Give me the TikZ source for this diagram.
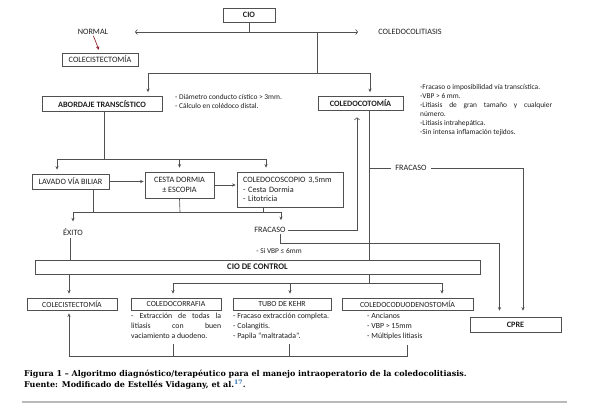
\documentclass[tikz,border=0pt]{standalone}
\usepackage{fontspec}
\setmainfont{Carlito}
\newfontfamily\capfont{DejaVu Serif}
\usetikzlibrary{arrows.meta,calc}
\definecolor{ln}{HTML}{505050}
\definecolor{tx}{HTML}{1E1E1E}
\definecolor{redar}{HTML}{8B1A2A}
\definecolor{supblue}{HTML}{2F6FB0}
\tikzset{
  lbl/.style={font=\fontsize{8.2}{10}\selectfont},
  bx/.style={draw=ln, line width=0.75pt, inner sep=0pt, font=\fontsize{8.2}{10}\selectfont},
  bxs/.style={bx, font=\fontsize{7.8}{10}\selectfont},
  bfx/.style={bx, font=\fontsize{8.2}{10}\selectfont\bfseries},
  nt/.style={font=\fontsize{7.4}{9}\selectfont, align=left, anchor=north west},
  ntb/.style={font=\fontsize{7.8}{10}\selectfont, align=left, anchor=north west},
  cn/.style={draw=ln, line width=0.65pt},
  arr/.style={cn, -{Stealth[length=3.5pt,width=3.2pt]}, shorten >=4pt},
  oarr/.style={cn, -{Straight Barb[length=2pt,width=5pt]}},
  rarr/.style={draw=redar, line width=0.65pt, -{Stealth[length=3.5pt,width=3.2pt]}, shorten >=3pt, shorten <=1pt},
  capt/.style={font=\capfont\bfseries\fontsize{8}{9}\selectfont, anchor=base west, text=black},
}
\begin{document}
\begin{tikzpicture}[x=1pt,y=-1pt, every node/.style={text=tx, inner sep=0pt}]
\useasboundingbox[fill=white] (0,0) rectangle (589,409);

% nodes
\node[bfx, minimum width=52pt, minimum height=14pt] (cio) at (249,15) {CIO};
\node[lbl] (normal) at (93,32) {NORMAL};
\node[lbl] (colito) at (410,32) {COLEDOCOLITIASIS};
\node[bx, minimum width=76pt, minimum height=13pt] (cole1) at (100,59.5) {COLECISTECTOMÍA};
\node[bfx, minimum width=120pt, minimum height=15pt] (abord) at (102,104) {ABORDAJE TRANSCÍSTICO};
\node[bfx, minimum width=85pt, minimum height=14pt] (ctomia) at (360.5,103.5) {COLEDOCOTOMÍA};
\node[nt] (n1) at (175,94.5) {- Diámetro conducto cístico > 3mm.\\- Cálculo en colédoco distal.};
\node[nt] (n2) at (420,84.5) {-Fracaso o imposibilidad vía transcística.\\-VBP > 6 mm.\\\makebox[132pt][s]{-Litiasis de gran tamaño y cualquier}\\número.\\-Litiasis intrahepática.\\-Sin intensa inflamación tejidos.};

\node[bx, minimum width=77pt, minimum height=15pt] (lavado) at (70.5,181.5) {LAVADO VÍA BILIAR};
\node[bx, minimum width=69pt, minimum height=26pt, align=center] (cesta) at (179.5,185) {CESTA DORMIA\\± ESCOPIA};
\node[bx, minimum width=106pt, minimum height=35pt, align=left, text width=94pt, inner xsep=6pt, font=\fontsize{8.2}{9.5}\selectfont] (cscop) at (290,189.5) {COLEDOCOSCOPIO 3,5mm\\- Cesta Dormia\\- Litotricia};

\node[lbl] (exito) at (73,232) {ÉXITO};
\node[lbl] (frac1) at (270,230) {FRACASO};
\node[lbl, inner xsep=4pt] (frac2) at (411,168) {FRACASO};
\node[font=\fontsize{7.4}{9}\selectfont] (sivbp) at (279,251) {- Si VBP ≤ 6mm};

\node[bfx, minimum width=445pt, minimum height=14pt, font=\fontsize{8.6}{10}\selectfont\bfseries] (cctrl) at (257.5,267) {CIO DE CONTROL};
\node[bxs, minimum width=90pt, minimum height=12pt] (cole2) at (72,304) {COLECISTECTOMÍA};
\node[bxs, minimum width=90pt, minimum height=12pt] (rafia) at (176,304) {COLEDOCORRAFIA};
\node[bxs, minimum width=98pt, minimum height=12pt] (kehr) at (282,304) {TUBO DE KEHR};
\node[bxs, minimum width=131pt, minimum height=12pt] (cdd) at (407.5,304) {COLEDOCODUODENOSTOMÍA};
\node[bfx, minimum width=91pt, minimum height=15pt] (cpre) at (515.5,324.5) {CPRE};

\node[ntb] (trafia) at (131,312.5) {\makebox[90pt][s]{- Extracción de todas la}\\\makebox[90pt][s]{litiasis con buen}\\vaciamiento a duodeno.};
\node[ntb] (tkehr) at (233,312.5) {- Fracaso extracción completa.\\- Colangitis.\\- Papila “maltratada”.};
\node[ntb] (tcdd) at (367,312.5) {- Ancianos\\- VBP > 15mm\\- Múltiples litiasis};

% connectors
\coordinate (j1) at (249,32);
\coordinate (nl) at (135,32);
\coordinate (cr) at (358,32);
\draw[cn] (cio.south) -- (j1);
\draw[oarr] (j1) -- (nl);
\draw[oarr] (j1) -- (cr);
\draw[rarr] (normal.south) -- (cole1.north);

\coordinate (j2a) at (317,32);
\coordinate (j2) at (317,73);
\draw[cn] (j2a) -- (j2);
\draw[arr] (j2) -| ([xshift=46pt]abord.north);
\draw[arr] (j2) -| ([xshift=9.5pt]ctomia.north);

\coordinate (j3) at (104,159);
\draw[cn] ([xshift=2pt]abord.south) -- (j3);
\draw[arr] (j3) -| ([xshift=-13.5pt]lavado.north);
\draw[arr] (j3) -| (cesta.north);
\draw[arr] (j3) -| ([xshift=-24pt]cscop.north);
\draw[arr, shorten >=1pt] (lavado.east) -- (lavado.east -| cesta.west);
\draw[arr, shorten >=1pt] (cesta.east) -- (cesta.east -| cscop.west);

\coordinate (j4) at (180,212);
\draw[cn] ([xshift=22.5pt]lavado.south) |- (j4);
\draw[cn] (cesta.south) -- (j4);
\draw[cn] ([xshift=-27pt]cscop.south) |- (j4);
\draw[arr, shorten >=7pt] (j4) -| (exito.north);
\draw[arr, shorten >=7pt] (j4) -| ([xshift=11pt]frac1.north);

\draw[oarr] ([xshift=2pt]frac1.east) -| ([xshift=-3.5pt,yshift=-6.5pt]ctomia.south);
\coordinate (j7) at (280,243);
\draw[arr, shorten >=6pt] ([xshift=10pt,yshift=-1pt]frac1.south) |- (j7) -| ([xshift=-16pt]cpre.north);

\draw[cn] ([xshift=8.5pt]ctomia.south) -- ([xshift=8.5pt]ctomia.south |- cctrl.north);
\coordinate (j5) at (369,168);
\draw[cn] (j5) -- (frac2.west);
\draw[arr, shorten >=6pt] (frac2.east) -| ([xshift=7.5pt]cpre.north);

\draw[cn] ([xshift=-3pt,yshift=-2pt]exito.south) -- ([xshift=-3pt]exito.south |- cctrl.north);
\draw[arr] ([xshift=-3pt]cole2.north |- cctrl.south) -- ([xshift=-3pt]cole2.north);

\coordinate (j6) at (369,283);
\draw[cn] ([xshift=111.5pt]cctrl.south) -- (j6);
\draw[arr] (j6) -| ([xshift=-3pt]rafia.north);
\draw[arr] (j6) -| ([xshift=8pt]kehr.north);
\draw[arr] (j6) -| ([xshift=34.5pt]cdd.north);

\coordinate (b1) at (173,344);
\coordinate (b2) at (289,344);
\coordinate (b3) at (407,345);
\coordinate (jb) at (69,356);
\draw[cn] (b3) |- (jb);
\draw[cn] (b1) -- (b1 |- jb);
\draw[cn] (b2) -- (b2 |- jb);
\draw[arr, shorten >=3pt] (jb) -- ([xshift=-3pt]cole2.south);

% caption
\node[capt] (cap1) at (24,376) {Figura 1 – Algoritmo diagnóstico/terapéutico para el manejo intraoperatorio de la coledocolitiasis.};
\node[capt] (cap2) at (24,387.5) {Fuente: Modificado de Estellés Vidagany, et al.\textsuperscript{\textcolor{supblue}{17}}.};
\draw[draw=gray!55, line width=1.5pt] (22,402) -- (567,402);
\end{tikzpicture}
\end{document}
